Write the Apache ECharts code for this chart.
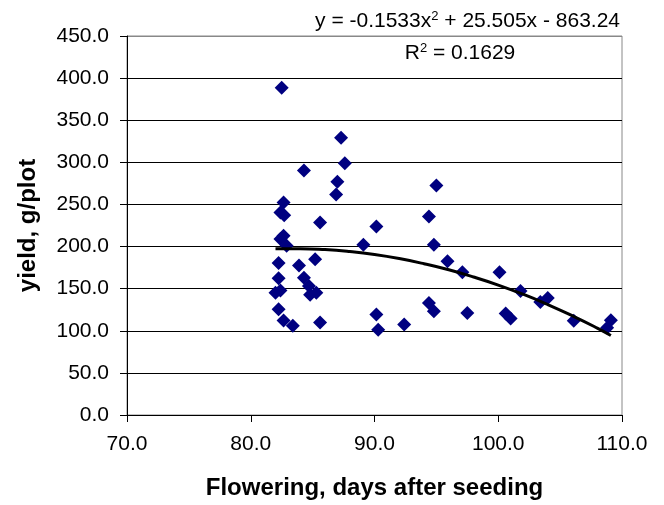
<!DOCTYPE html>
<html>
<head>
<meta charset="utf-8">
<script src="https://cdn.jsdelivr.net/npm/echarts@6/dist/echarts.min.js"></script>
<style>
  html, body { margin: 0; padding: 0; background: #fff; }
  #main { width: 664px; height: 505px; }
</style>
</head>
<body>
<div id="main"></div>
<script>
// 散点数据：开花天数 / 产量
var floweringDays = [
    82.5, 87.3, 87.6, 84.3, 87.0, 86.9, 82.65, 82.4, 82.7, 85.6,
    90.15, 82.65, 82.4, 82.9, 89.1, 82.25, 83.9, 85.2, 82.25, 84.3,
    84.7, 82.0, 82.4, 84.8, 85.3, 82.25, 82.65, 83.4, 85.6, 90.15,
    90.3, 92.4, 95.0, 94.4, 94.8, 95.9, 97.1, 100.1, 101.8, 103.4,
    104.0, 94.4, 94.8, 97.5, 100.6, 101.0, 106.1, 109.1, 108.8
];
var yieldPerPlot = [
    388.6, 329.3, 299.0, 290.3, 277.0, 261.7, 252.2, 240.4, 237.2, 228.6,
    223.9, 212.8, 208.9, 201.0, 202.2, 180.6, 177.4, 184.9, 162.5, 162.9,
    153.1, 145.2, 147.9, 142.8, 145.2, 125.5, 112.1, 105.9, 109.8, 119.2,
    101.1, 107.4, 272.6, 235.7, 202.2, 182.6, 169.6, 169.6, 147.2, 134.2,
    138.9, 133.0, 123.1, 121.2, 120.4, 114.5, 111.8, 112.5, 103.5
];
// 趋势线
var trendX = [82, 84, 86, 88, 90, 92, 94, 96, 98, 100, 102, 104, 106, 108, 109.1];
var trendY = [197.4, 197.5, 196.4, 194.0, 190.5, 185.7, 179.6, 172.4, 163.9, 154.3, 143.4, 131.2, 117.8, 103.2, 94.4];

var eqText = ['y = -0.1533x', '2', ' + 25.505x - 863.24'];
var r2Text = ['R', '2', ' = 0.1629'];

var FONT = '"Liberation Sans", Arial, sans-serif';

var points = [];
for (var i = 0; i < floweringDays.length; i++) {
    points.push([floweringDays[i], yieldPerPlot[i]]);
}
var trend = [];
for (var j = 0; j < trendX.length; j++) {
    trend.push([trendX[j], trendY[j]]);
}

var gridColors = ['#000', '#000', '#000', '#000', '#000', '#000', '#000', '#000', '#000', '#888'];

var supRich = {
    a: { fontFamily: FONT, fontSize: 21, color: '#000' },
    s: { fontFamily: FONT, fontSize: 13, color: '#000', verticalAlign: 'top', padding: [0, 0, 9, 0] }
};

var myChart = echarts.init(document.getElementById('main'));
myChart.setOption({
    animation: false,
    backgroundColor: '#fff',
    grid: {
        left: 127, right: 42, top: 36, bottom: 88,
        show: true, borderColor: '#888', borderWidth: 1
    },
    xAxis: {
        type: 'value',
        min: 70, max: 110, interval: 10,
        name: 'Flowering, days after seeding',
        nameLocation: 'middle',
        nameGap: 61,
        nameTextStyle: { fontFamily: FONT, fontSize: 24, fontWeight: 'bold', color: '#000' },
        axisLine: { show: true, lineStyle: { color: '#000', width: 1 } },
        axisTick: { show: true, length: 7, lineStyle: { color: '#000' } },
        axisLabel: {
            margin: 19, fontFamily: FONT, fontSize: 21, color: '#000',
            formatter: function (v) { return v.toFixed(1); }
        },
        splitLine: { show: false }
    },
    yAxis: {
        type: 'value',
        min: 0, max: 450, interval: 50,
        name: 'yield, g/plot',
        nameLocation: 'middle',
        nameGap: 87,
        nameTextStyle: { fontFamily: FONT, fontSize: 24, fontWeight: 'bold', color: '#000' },
        axisLine: { show: true, lineStyle: { color: '#000', width: 1 } },
        axisTick: { show: true, length: 7, lineStyle: { color: '#000' } },
        axisLabel: {
            margin: 18, fontFamily: FONT, fontSize: 21, color: '#000',
            formatter: function (v) { return v.toFixed(1); }
        },
        splitLine: { show: true, lineStyle: { color: gridColors, width: 1 } }
    },
    graphic: [
        {
            type: 'text', z: 100,
            style: {
                x: 620, y: 21, align: 'right', verticalAlign: 'middle',
                text: '{a|' + eqText[0] + '}{s|' + eqText[1] + '}{a|' + eqText[2] + '}',
                rich: supRich
            }
        },
        {
            type: 'text', z: 100,
            style: {
                x: 460, y: 53, align: 'center', verticalAlign: 'middle',
                text: '{a|' + r2Text[0] + '}{s|' + r2Text[1] + '}{a|' + r2Text[2] + '}',
                rich: supRich
            }
        }
    ],
    series: [
        {
            type: 'scatter',
            data: points,
            symbol: 'diamond',
            symbolSize: 14,
            itemStyle: { color: '#000080', opacity: 1 },
            z: 2
        },
        {
            type: 'line',
            data: trend,
            smooth: true,
            showSymbol: false,
            lineStyle: { color: '#000', width: 3 },
            z: 3
        }
    ]
});
</script>
</body>
</html>
